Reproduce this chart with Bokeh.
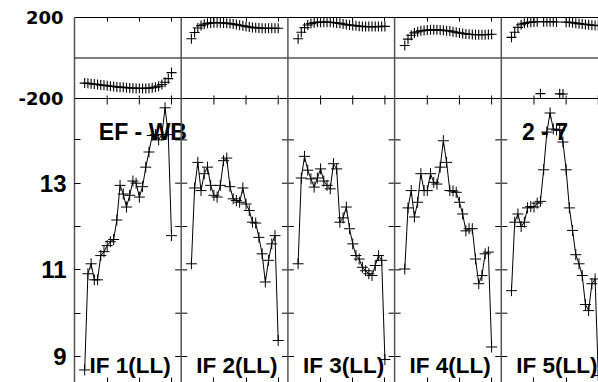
from bokeh.plotting import figure
from bokeh.models import Range1d, FixedTicker, LinearAxis, Span
from bokeh.core.properties import value
from bokeh.embed import file_html
from bokeh.resources import INLINE

# ---------------- data ----------------
channels = list(range(3, 31))

amp_if1 = [8.69, 10.91, 11.14, 10.77, 10.77, 11.33, 11.42, 11.56, 11.65, 11.70, 12.15, 12.95, 12.75, 12.45,
           12.72, 13.05, 13.00, 12.68, 12.92, 13.37, 13.72, 14.10, 14.12, 14.00, 14.12, 14.74, 14.12, 11.79]
amp_if2 = [11.14, 12.89, 13.48, 12.83, 13.22, 13.37, 12.95, 12.72, 12.68, 12.95, 13.52, 13.58, 12.92, 12.64,
           12.60, 12.56, 12.89, 12.52, 12.37, 12.10, 12.08, 11.75, 11.37, 10.72, 11.22, 11.60, 11.79, 9.37]
amp_if3 = [11.14, 13.12, 13.62, 13.30, 13.10, 12.91, 13.12, 13.33, 13.05, 12.95, 12.87, 13.45, 13.33, 12.10,
           12.20, 12.45, 11.95, 11.60, 11.33, 11.25, 11.06, 10.98, 10.91, 10.87, 11.10, 11.33, 11.22, 8.93]
amp_if4 = [11.02, 12.43, 12.83, 12.22, 12.56, 13.22, 12.83, 12.83, 13.22, 13.02, 12.98, 13.37, 13.98, 13.48,
           12.83, 12.82, 12.79, 12.56, 12.29, 11.90, 11.95, 11.95, 11.25, 10.68, 10.87, 11.37, 11.41, 9.22]
amp_if5 = [10.52, 12.10, 12.29, 12.00, 12.10, 12.43, 12.46, 12.45, 12.54, 12.58, 13.31, 14.18, 14.62, 14.25,
           14.23, 14.22, 13.95, 13.31, 12.43, 11.91, 11.35, 11.14, 10.87, 10.20, 10.06, 10.68, 10.79, 8.56]

phase_if1 = [-124, -125, -127, -129, -131, -133, -135, -137, -139, -141, -143, -144, -145, -147,
             -148, -149, -150, -150, -150, -150, -149, -147, -144, -139, -131, -120, -102, -72]
phase_if2 = [95, 126, 148, 160, 167, 171, 173, 174, 174, 174, 173, 172, 170, 168,
             165, 162, 159, 156, 153, 151, 149, 148, 147, 147, 147, 147, 147, 147]
phase_if3 = [95, 127, 150, 163, 170, 174, 176, 177, 177, 177, 176, 175, 173, 171,
             168, 165, 163, 161, 159, 157, 156, 155, 155, 155, 155, 155, 156, 156]
phase_if4 = [62, 93, 112, 124, 130, 134, 136, 138, 139, 139, 139, 138, 137, 135,
             133, 130, 127, 124, 121, 119, 117, 116, 115, 115, 115, 115, 116, 117]
phase_if5 = [102, 127, 151, 164, 171, 175, 177, 178, 179, -176, 179, 179, 179, 179,
             178, -177, -178, 177, 176, 174, 172, 170, 168, 166, 164, 162, 161, 160]

if_labels = ["IF 1(LL)", "IF 2(LL)", "IF 3(LL)", "IF 4(LL)", "IF 5(LL)"]
baseline_label = "EF - WB"
source_label = "2 - 7"
amp_tick_labels = [9, 11, 13]
amp_minor_ticks = [10, 12, 14]
phase_tick_labels = [-200, 200]
chan_ticks = [10, 20, 30]

amps = [amp_if1, amp_if2, amp_if3, amp_if4, amp_if5]
phases = [phase_if1, phase_if2, phase_if3, phase_if4, phase_if5]

# ---------------- layout constants (pixels) ----------------
PX_PER_CH = 3.215
PANEL_PX = 106.7
LEFT = 74           # page x of frame left
FRAME_W = 524
FRAME_H = 365
TOP = 17            # page y of frame top
CH_LEFT = -0.17     # channel value at panel left edge
AMP_PX = 43.33      # px per amplitude unit
AMP13_Y = 182.7     # page y of amplitude 13
PHASE_PX = 81 / 400.0

W = PANEL_PX / PX_PER_CH
amp_hi = 13 + (AMP13_Y - TOP) / AMP_PX
amp_lo = amp_hi - FRAME_H / AMP_PX
ph_hi = 200.0
ph_lo = ph_hi - FRAME_H / PHASE_PX
x_hi = CH_LEFT + FRAME_W / PX_PER_CH


def amp_at(page_y):
    return 13 - (page_y - AMP13_Y) / AMP_PX


p = figure(width=LEFT + FRAME_W, height=TOP + FRAME_H, output_backend="svg", toolbar_location=None,
           x_range=Range1d(CH_LEFT, x_hi), y_range=Range1d(amp_lo, amp_hi),
           x_axis_location=None, y_axis_location=None,
           min_border_left=LEFT, min_border_right=0, min_border_top=TOP, min_border_bottom=0)
p.extra_y_ranges = {"phase": Range1d(ph_lo, ph_hi)}
p.outline_line_color = None
p.background_fill_color = "white"
p.border_fill_color = "white"
p.xgrid.visible = False
p.ygrid.visible = False

# left amplitude axis (closest to the frame)
left = LinearAxis(ticker=FixedTicker(ticks=amp_tick_labels, minor_ticks=amp_minor_ticks),
                  major_tick_in=6, major_tick_out=0, minor_tick_in=6, minor_tick_out=0,
                  axis_line_color="#555555", axis_line_width=1.5,
                  major_tick_line_color="black", minor_tick_line_color="black",
                  major_label_standoff=8, major_label_text_font="Liberation Sans",
                  major_label_text_font_style="bold", major_label_text_font_size="24px",
                  major_label_text_color="black")
p.add_layout(left, "left")

# phase labels: second left axis, pulled back towards the frame
phase_axis = LinearAxis(y_range_name="phase",
                        ticker=FixedTicker(ticks=phase_tick_labels, minor_ticks=[]),
                        major_tick_in=0, major_tick_out=0, minor_tick_in=0, minor_tick_out=0,
                        axis_line_color=None, major_label_standoff=-27,
                        major_label_overrides={v: str(v) for v in phase_tick_labels},
                        major_label_text_font="DejaVu Sans", major_label_text_font_style="bold",
                        major_label_text_font_size="18px", major_label_text_color="black")
p.add_layout(phase_axis, "left")

xt = [i * W + c for i in range(5) for c in chan_ticks if i * W + c < x_hi]
above = LinearAxis(ticker=FixedTicker(ticks=xt, minor_ticks=[]), major_tick_in=4, major_tick_out=0,
                   minor_tick_in=0, minor_tick_out=0, major_label_text_color=None,
                   axis_line_color="black", major_tick_line_color="black")
p.add_layout(above, "above")
below = LinearAxis(ticker=FixedTicker(ticks=xt, minor_ticks=[]), major_tick_in=5, major_tick_out=0,
                   minor_tick_in=0, minor_tick_out=0, major_label_text_color=None,
                   axis_line_color=None, major_tick_line_color="black")
p.add_layout(below, "below")

# horizontal lines: phase zero line and phase/amplitude boundary
for loc in [0, phase_tick_labels[0]]:
    p.add_layout(Span(location=loc, dimension="width", y_range_name="phase",
                      line_color="black", line_width=1))

# vertical panel separators
bounds = [i * W + CH_LEFT for i in range(1, 5)]
for b in bounds:
    p.add_layout(Span(location=b, dimension="height", line_color="#555555", line_width=1.5))

# y ticks on both sides of separators
tl = 6 / PX_PER_CH
yt = amp_tick_labels + amp_minor_ticks
p.segment(x0=[b - tl for b in bounds for _ in yt], y0=[v for _ in bounds for v in yt],
          x1=[b + tl for b in bounds for _ in yt], y1=[v for _ in bounds for v in yt],
          line_color="black", line_width=1)

# x ticks across the phase/amplitude boundary
pb = phase_tick_labels[0]
p.segment(x0=xt, y0=[pb - 6 / PHASE_PX] * len(xt), x1=xt, y1=[pb + 3 / PHASE_PX] * len(xt),
          y_range_name="phase", line_color="black", line_width=1)

# texts
p.text(x=[i * W + CH_LEFT + 15 / PX_PER_CH for i in range(5)], y=[amp_at(365)] * 5, text=if_labels,
       text_font=value("Liberation Sans"), text_font_style="bold", text_font_size=value("22.5px"),
       text_baseline="alphabetic", text_align="left", text_color="black")
p.text(x=[CH_LEFT + 24.3 / PX_PER_CH, 4 * W + CH_LEFT + 20.6 / PX_PER_CH], y=[amp_at(131.7)] * 2,
       text=[baseline_label, source_label],
       text_font=value("Liberation Sans"), text_font_style="bold", text_font_size=value("23px"),
       text_baseline="alphabetic", text_align="left", text_color="black")

# data
for i, (amp, ph) in enumerate(zip(amps, phases)):
    xs = [c + i * W for c in channels]
    p.line(xs, amp, line_color="black", line_width=1)
    p.scatter(xs, amp, marker="cross", size=11, line_color="black", line_width=1)
    p.scatter(xs, ph, marker="cross", size=10, line_color="black", line_width=1.1, y_range_name="phase")

open("out.html", "w").write(file_html(p, INLINE))
